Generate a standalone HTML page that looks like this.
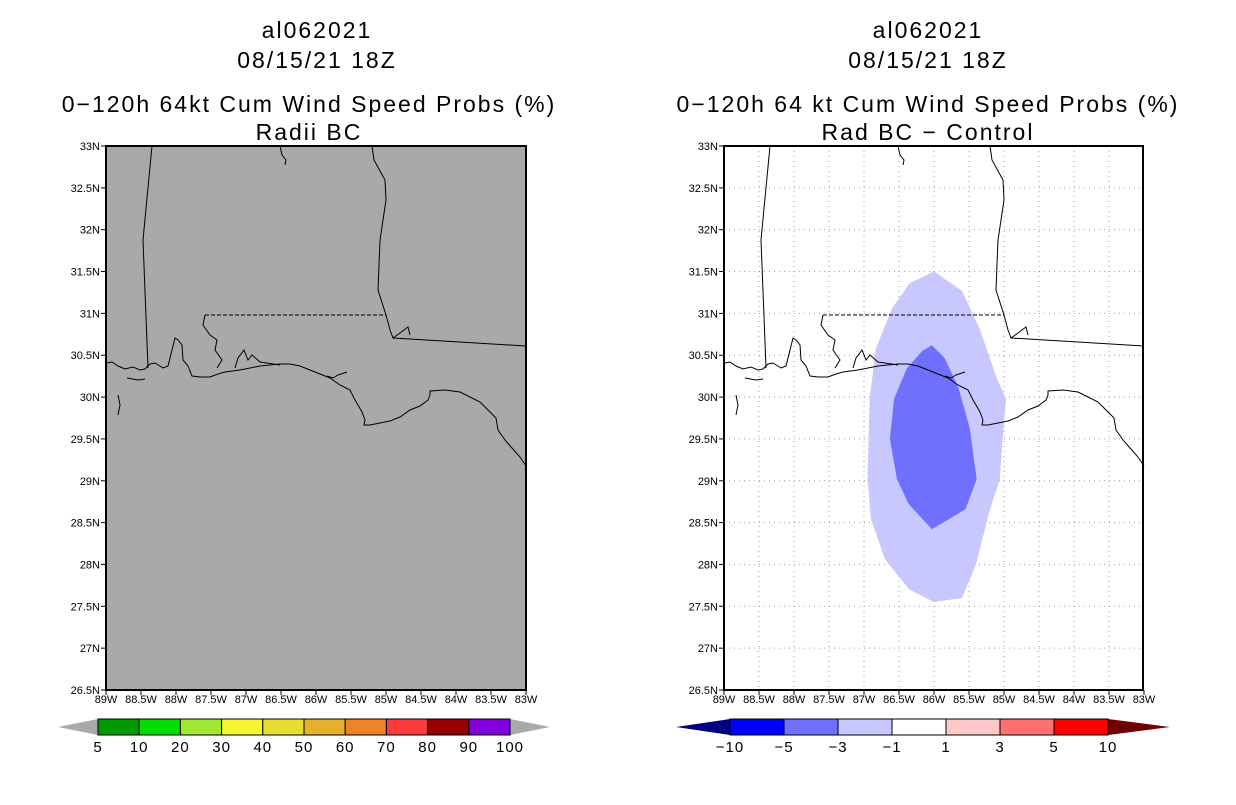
<!DOCTYPE html>
<html><head><meta charset="utf-8">
<style>
body{margin:0;background:#fff;}
svg text{font-family:"Liberation Sans",sans-serif;}
</style></head>
<body>
<svg id="s" width="1236" height="800" xmlns="http://www.w3.org/2000/svg">
<g font-size="23" letter-spacing="2" text-anchor="middle" fill="#000">
<text x="317" y="38">al062021</text>
<text x="317" y="68">08/15/21 18Z</text>
<text x="309" y="112">0−120h 64kt Cum Wind Speed Probs (%)</text>
<text x="309" y="140">Radii BC</text>
</g>
<g font-size="23" letter-spacing="2" text-anchor="middle" fill="#000">
<text x="928" y="38">al062021</text>
<text x="928" y="68">08/15/21 18Z</text>
<text x="928" y="112">0−120h 64 kt Cum Wind Speed Probs (%)</text>
<text x="928" y="140">Rad BC − Control</text>
</g>
<rect x="106" y="146" width="420" height="544" fill="#a9a9a9"/>
<rect x="724" y="146" width="419" height="544" fill="#fff"/>
<g id="grid"></g>
<g id="fills"></g>
<defs>
<g id="coast" fill="none" stroke="#000" stroke-width="1">
<polyline points="107,363 112,362 118,366 125,369 133,367 140,370 145,369 150,364 155,363 163,368 168,366 172,350 175,338 178,340 182,345 183,360 188,366 192,376 200,377 210,377 218,374 225,372 240,370 260,366 280,364 290,364 300,366 320,374 330,378 340,385 350,390 355,400 358,405 362,412 365,420 364,425 370,425 380,423 390,421 400,417 410,410 420,406 428,400 430,395 430,391 445,390 460,392 470,397 480,402 488,410 496,418 498,430 505,440 512,448 520,457 526,466"/>
<polyline points="152,146 143,240 148,368"/>
<polyline points="205,315 386,315" stroke-dasharray="4,2"/>
<polyline points="205,315 203,325 210,335 217,340 215,350 222,360 217,368"/>
<polyline points="372,146 374,160 385,180 386,200 380,240 378,290 386,315 390,330 393,338 400,333 408,327 410,335"/>
<polyline points="393,338 526,346"/>
<polyline points="280,146 282,155 286,160 285,165"/>
<polyline points="235,368 238,358 244,350 248,360 252,355 260,362 280,365"/>
<polyline points="327,376 333,378 338,375 347,372"/>
<polyline points="118,395 120,405 118,415"/>
<polyline points="127,378 138,380 145,379"/>
</g>
</defs>
<use href="#coast"/>
<use href="#coast" transform="translate(618,0)"/>
<rect x="106" y="146" width="420" height="544" fill="none" stroke="#000" stroke-width="2"/>
<rect x="724" y="146" width="419" height="544" fill="none" stroke="#000" stroke-width="2"/>
<g id="axes" font-size="11" fill="#000"></g>
<g id="cbars"></g>
</svg>
<script>
const NS="http://www.w3.org/2000/svg";
const lonTicks=["89W","88.5W","88W","87.5W","87W","86.5W","86W","85.5W","85W","84.5W","84W","83.5W","83W"];
const latTicks=["26.5N","27N","27.5N","28N","28.5N","29N","29.5N","30N","30.5N","31N","31.5N","32N","32.5N","33N"];
// difference contours (lon, lat)
const outerLon=[-86,-85.6,-85.35,-85.1,-84.97,-85.02,-85.06,-85.2,-85.4,-85.6,-86,-86.35,-86.7,-86.9,-86.95,-86.92,-86.83,-86.6,-86.35];
const outerLat=[31.5,31.27,30.82,30.22,29.98,29.5,29.02,28.66,28.0,27.6,27.55,27.7,28.06,28.54,29.02,29.98,30.58,31.06,31.36];
const innerLon=[-86.03,-85.85,-85.65,-85.49,-85.39,-85.55,-86.03,-86.36,-86.53,-86.63,-86.57,-86.39,-86.17];
const innerLat=[30.62,30.47,30.11,29.63,29.02,28.66,28.42,28.72,29.02,29.5,29.98,30.34,30.55];
const mapL=[106,724], T=146, W=420, H=544;
const xs=(m,lon)=>mapL[m]+(lon+89)/6*W;
const ys=lat=>T+(33-lat)/6.5*H;
function el(t,a,p){const e=document.createElementNS(NS,t);for(const k in a)e.setAttribute(k,a[k]);(p||document.getElementById('s')).appendChild(e);return e;}
const fills=document.getElementById('fills');
function poly(lo,la,c,n){const pts=lo.map((v,i)=>xs(1,v)+","+ys(la[i])).join(" ");const p=el('polygon',{points:pts,fill:c},fills);

}
poly(outerLon,outerLat,"#c8c8ff","contour-minus-1-to-minus-3");
poly(innerLon,innerLat,"#7070ff","contour-minus-3-to-minus-5");
const grid=document.getElementById('grid'), axes=document.getElementById('axes');
lonTicks.forEach((t,i)=>{const lon=-89+i*0.5;
 for(let m=0;m<2;m++){const x=xs(m,lon);
  el('line',{x1:x,y1:690,x2:x,y2:695,stroke:"#000"},axes);
  const tx=el('text',{x:x,y:703,'text-anchor':'middle'},axes);tx.textContent=t;
  
  
  if(m==1&&i>0&&i<12){el('line',{x1:x,y1:146,x2:x,y2:690,stroke:"#a0a0a0","stroke-dasharray":"1,4"},grid);}
 }});
latTicks.forEach((t,i)=>{const lat=26.5+i*0.5,y=ys(lat);
 for(let m=0;m<2;m++){const x=mapL[m];
  el('line',{x1:x-5,y1:y,x2:x,y2:y,stroke:"#000"},axes);
  const tx=el('text',{x:x-6,y:y+4,'text-anchor':'end'},axes);tx.textContent=t;
  
  
  if(m==1&&i>0&&i<13){el('line',{x1:724,y1:y,x2:1143,y2:y,stroke:"#a0a0a0","stroke-dasharray":"1,4"},grid);}
 }});
const cb=document.getElementById('cbars');
const leftColors=["#009900","#00dd00","#a0e632","#f5f532","#e6dc32","#e6af2d","#f08228","#fa3c3c","#960000","#8200dc"];
const leftLabels=["5","10","20","30","40","50","60","70","80","90","100"];
el('polygon',{points:"58,727 98,719 98,735",fill:"#a9a9a9"},cb);
el('polygon',{points:"510,719 550,727 510,735",fill:"#a9a9a9"},cb);
const lw=412/10;
leftColors.forEach((c,i)=>{const r=el('rect',{x:98+i*lw,y:719,width:lw,height:16,fill:c,stroke:"#000"},cb);
 
 });
leftLabels.forEach((l,i)=>{const t=el('text',{x:98+i*lw,y:752,'text-anchor':'middle','font-size':15,'letter-spacing':1},cb);t.textContent=l;
 
 });
const rightColors=["#0000ff","#7070ff","#c8c8ff","#ffffff","#ffc8c8","#ff7070","#ff0000"];
const rightLabels=["−10","−5","−3","−1","1","3","5","10"];
el('polygon',{points:"676,727 730,719 730,735",fill:"#000080"},cb);
el('polygon',{points:"1108,719 1170,727 1108,735",fill:"#700000"},cb);
const rw=378/7;
rightColors.forEach((c,i)=>{const r=el('rect',{x:730+i*rw,y:719,width:rw,height:16,fill:c,stroke:"#000"},cb);
 
 });
rightLabels.forEach((l,i)=>{const t=el('text',{x:730+i*rw,y:752,'text-anchor':'middle','font-size':15,'letter-spacing':1},cb);t.textContent=l;
 
 });
</script>
</body></html>
